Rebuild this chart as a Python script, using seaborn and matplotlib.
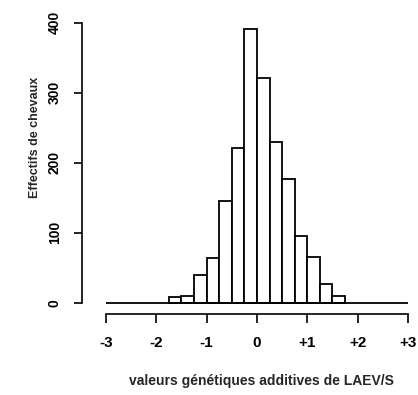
import numpy as np
import pandas as pd
import seaborn as sns
import matplotlib
matplotlib.use("Agg")
import matplotlib.pyplot as plt

# Data
bin_edges = [-1.75, -1.5, -1.25, -1.0, -0.75, -0.5, -0.25, 0.0, 0.25, 0.5, 0.75, 1.0, 1.25, 1.5, 1.75]
counts = [8, 10, 40, 64, 145, 221, 391, 321, 229, 177, 96, 65, 27, 10]
x_ticks = [-3, -2, -1, 0, 1, 2, 3]
x_tick_labels = ["-3", "-2", "-1", "0", "+1", "+2", "+3"]
y_ticks = [0, 100, 200, 300, 400]
x_label = "valeurs génétiques additives de LAEV/S"
y_label = "Effectifs de chevaux"

sns.set_theme(style="ticks")
plt.rcParams['font.family'] = ['Liberation Sans', 'DejaVu Sans']

W, H = 418, 395
fig = plt.figure(figsize=(W / 100, H / 100), dpi=100)
ax = fig.add_axes([82 / W, 1 - 314 / H, (412 - 82) / W, (314 - 20) / H])

centers = [(a + b) / 2 for a, b in zip(bin_edges[:-1], bin_edges[1:])]
df = pd.DataFrame({"x": centers, "n": counts})
sns.histplot(data=df, x="x", weights="n", bins=bin_edges, ax=ax,
             color="white", edgecolor="black", linewidth=1.3, alpha=1)

ax.hlines(0, -3, 3, color="black", linewidth=1.3)

ax.set_xlim(-3.477, 3.08)
ax.set_ylim(-16.1, 404)

for s in ["top", "right"]:
    ax.spines[s].set_visible(False)
ax.spines["left"].set_bounds(0, 400)
ax.spines["bottom"].set_bounds(-3, 3)
for s in ["left", "bottom"]:
    ax.spines[s].set_linewidth(1.2)
    ax.spines[s].set_color("black")

ax.set_xticks(x_ticks)
ax.set_xticklabels(x_tick_labels, fontsize=11, fontweight="bold")
ax.set_yticks(y_ticks)
ax.set_yticklabels([str(v) for v in y_ticks], fontsize=10, fontweight="bold",
                   rotation=90, va="center")
ax.tick_params(axis="x", direction="out", length=6.5, width=1.2, pad=9, colors="black")
ax.tick_params(axis="y", direction="out", length=5.5, width=1.2, pad=9, colors="black")

ax.set_xlabel("")
ax.set_ylabel("")
fig.text(261 / W, 1 - 381 / H, x_label, ha="center", va="center", fontsize=10, fontweight="bold")
fig.text(35 / W, 1 - 137 / H, y_label, ha="center", va="center", rotation=90,
         fontsize=9, fontweight="bold")

fig.savefig("out.png", dpi=100, facecolor="white")
